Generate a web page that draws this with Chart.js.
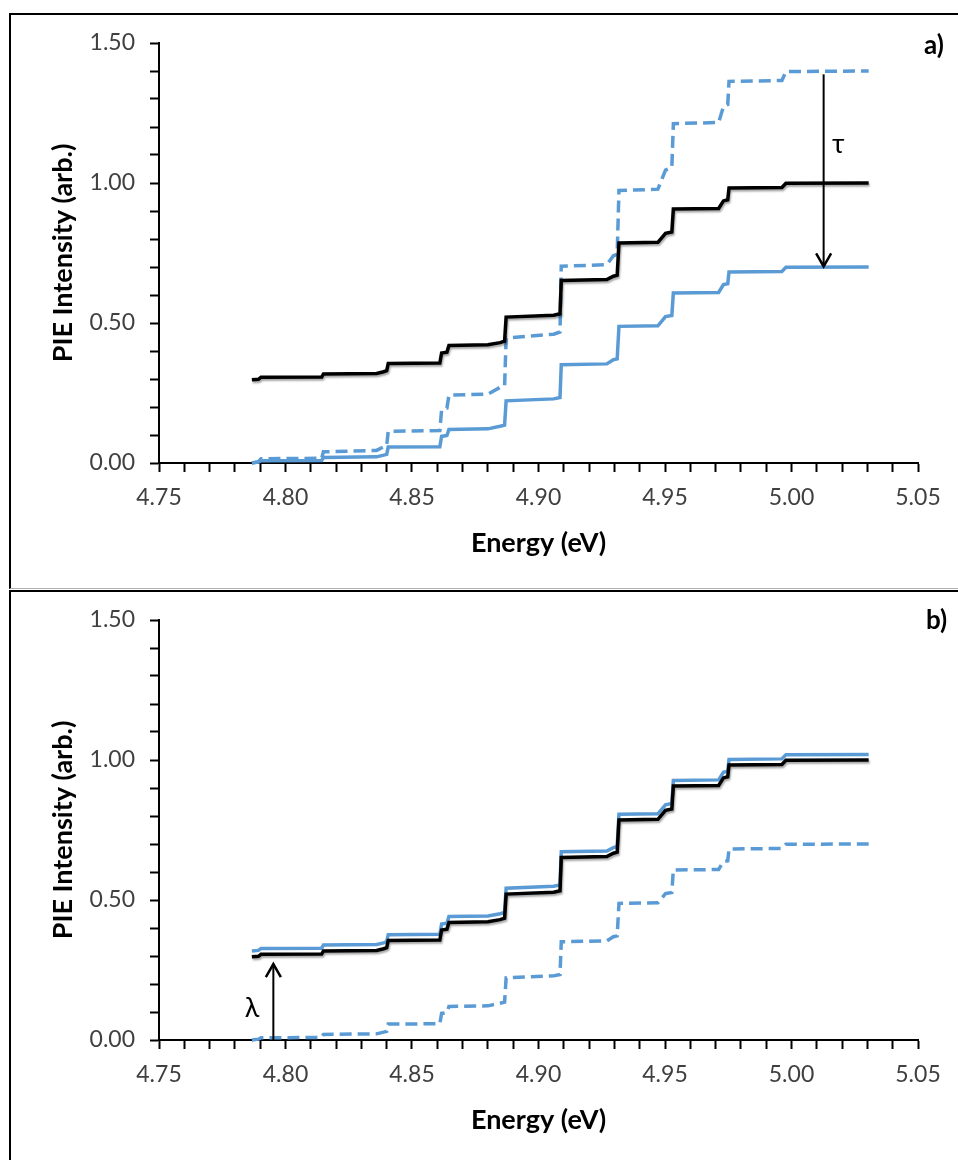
<!DOCTYPE html>
<html>
<head>
<meta charset="utf-8">
<script src="https://cdn.jsdelivr.net/npm/chart.js@4.4.1/dist/chart.umd.min.js"></script>
<style>
  html, body { margin: 0; padding: 0; background: #fff; }
  body { width: 958px; height: 1160px; position: relative; overflow: hidden; font-family: Lato, "Open Sans", sans-serif; }
  .panel { position: absolute; left: 9px; width: 980px; border-top: 2px solid #000; border-left: 2px solid #000; box-sizing: border-box; }
  #panelA { top: 13px; height: 576px; border-bottom: 1px solid #b0b0b0; }
  #panelB { top: 590px; height: 600px; }
  canvas { position: absolute; left: 0; }
  #chartA { top: 0; }
  #chartB { top: 577px; }
  .tag { position: absolute; font: bold 26px Lato, sans-serif; color: #000; line-height: 1; }
</style>
</head>
<body>
<div class="panel" id="panelA"></div>
<div class="panel" id="panelB"></div>
<canvas id="chartA" width="958" height="580"></canvas>
<canvas id="chartB" width="958" height="580"></canvas>
<div class="tag" style="left:924px; top:31px;">a)</div>
<div class="tag" style="left:926px; top:606px;">b)</div>

<script>
// ---- data ----
// energy breakpoints (eV), shared by every trace
const energy = [4.7867, 4.7893, 4.7903, 4.8143, 4.8150, 4.8360, 4.8388, 4.8400, 4.8406,
  4.8610, 4.8617, 4.8638, 4.8646, 4.8800, 4.8848, 4.8866, 4.8872, 4.9060, 4.9085, 4.9090,
  4.9270, 4.9296, 4.9311, 4.9318, 4.9472, 4.9502, 4.9527, 4.9533, 4.9712, 4.9731, 4.9748,
  4.9753, 4.9962, 4.9978, 5.0305];

// black trace (same in a and b)
const pieBlack = [0.297, 0.299, 0.306, 0.307, 0.318, 0.320, 0.326, 0.330, 0.355,
  0.357, 0.393, 0.396, 0.420, 0.422, 0.430, 0.435, 0.521, 0.528, 0.533, 0.652,
  0.655, 0.667, 0.671, 0.786, 0.788, 0.820, 0.825, 0.907, 0.909, 0.936, 0.940,
  0.982, 0.984, 0.999, 1.000];

// panel a, solid blue
const blueA = [0.000, 0.003, 0.008, 0.009, 0.020, 0.022, 0.028, 0.031, 0.057,
  0.058, 0.095, 0.098, 0.120, 0.122, 0.131, 0.135, 0.222, 0.229, 0.234, 0.351,
  0.354, 0.369, 0.372, 0.488, 0.490, 0.523, 0.527, 0.607, 0.609, 0.637, 0.640,
  0.682, 0.684, 0.699, 0.700];

// panel a, dashed blue
const dashA = [0.000, 0.005, 0.015, 0.017, 0.040, 0.045, 0.058, 0.062, 0.113,
  0.116, 0.190, 0.196, 0.242, 0.246, 0.270, 0.275, 0.446, 0.460, 0.468, 0.703,
  0.708, 0.740, 0.745, 0.973, 0.978, 1.046, 1.055, 1.212, 1.216, 1.273, 1.280,
  1.363, 1.366, 1.398, 1.400];

// panel b, solid blue
const blueB = [0.318, 0.320, 0.327, 0.328, 0.339, 0.341, 0.347, 0.351, 0.376,
  0.378, 0.414, 0.417, 0.441, 0.443, 0.451, 0.456, 0.542, 0.549, 0.554, 0.672,
  0.675, 0.687, 0.691, 0.806, 0.808, 0.840, 0.845, 0.927, 0.929, 0.956, 0.960,
  1.002, 1.004, 1.019, 1.020];

// panel b, dashed blue
const dashB = [0.000, 0.003, 0.008, 0.009, 0.020, 0.022, 0.028, 0.031, 0.057,
  0.058, 0.095, 0.098, 0.120, 0.122, 0.131, 0.135, 0.222, 0.229, 0.234, 0.351,
  0.354, 0.369, 0.372, 0.488, 0.490, 0.523, 0.527, 0.607, 0.609, 0.637, 0.640,
  0.682, 0.684, 0.699, 0.700];

// axis ticks
const xTicks = [];
for (let i = 0; i <= 30; i++) xTicks.push(+(4.75 + i * 0.01).toFixed(2));
const yTicks = [];
for (let i = 0; i <= 15; i++) yTicks.push(+(i * 0.1).toFixed(1));

// arrows: x, from, to, label and where the label goes
const tauArrow = { x: 5.0127, from: 1.388, to: 0.702, label: 'τ', lx: 5.0185, ly: 1.137 };
const lambdaArrow = { x: 4.7952, from: 0.0, to: 0.271, label: 'λ', lx: 4.7868, ly: 0.114 };

const BLUE = '#5b9bd5';
const FONT = 'Lato, "Open Sans", sans-serif';

// ---- helpers ----
function trace(values, color, dash) {
  return {
    data: energy.map((x, i) => ({ x, y: values[i] })),
    borderColor: color,
    backgroundColor: color,
    borderWidth: 3.5,
    borderDash: dash || [],
    pointRadius: 0,
    showLine: true,
    fill: false,
    tension: 0,
    clip: 8
  };
}

// soft shadow under the black trace, like the Excel original
const shadowPlugin = {
  id: 'shadow',
  beforeDatasetDraw(chart, args) {
    if (args.index !== 0) return;
    const ctx = chart.ctx;
    ctx.save();
    ctx.shadowColor = 'rgba(0,0,0,0.35)';
    ctx.shadowBlur = 2;
    ctx.shadowOffsetX = 1;
    ctx.shadowOffsetY = 2;
  },
  afterDatasetDraw(chart, args) {
    if (args.index !== 0) return;
    chart.ctx.restore();
  }
};

const arrowPlugin = {
  id: 'arrow',
  afterDatasetsDraw(chart, args, a) {
    const { ctx, scales: { x, y } } = chart;
    const px = x.getPixelForValue(a.x);
    const p0 = y.getPixelForValue(a.from);
    const p1 = y.getPixelForValue(a.to);
    const dir = Math.sign(p1 - p0);
    ctx.save();
    ctx.strokeStyle = '#000';
    ctx.lineWidth = 2;
    ctx.beginPath();
    ctx.moveTo(px, p0);
    ctx.lineTo(px, p1);
    ctx.stroke();
    ctx.lineWidth = 2.5;
    ctx.beginPath();
    ctx.moveTo(px - 7.5, p1 - dir * 13);
    ctx.lineTo(px, p1);
    ctx.lineTo(px + 7.5, p1 - dir * 13);
    ctx.stroke();
    ctx.fillStyle = '#000';
    ctx.font = '27px ' + FONT;
    ctx.textAlign = 'center';
    ctx.textBaseline = 'middle';
    ctx.fillText(a.label, x.getPixelForValue(a.lx), y.getPixelForValue(a.ly));
    ctx.restore();
  }
};

function axis(extra) {
  return Object.assign({
    type: 'linear',
    grid: { drawOnChartArea: false, drawTicks: true, tickLength: 9, tickColor: '#000', tickWidth: 2 },
    border: { color: '#000', width: 2 },
  }, extra);
}

function makePanel(id, datasets, arrow) {
  return new Chart(document.getElementById(id), {
    type: 'scatter',
    data: { datasets },
    options: {
      responsive: false,
      animation: false,
      events: [],
      layout: { padding: { left: 0, top: 43, right: 40, bottom: 0 } },
      plugins: { legend: { display: false }, tooltip: { enabled: false }, arrow },
      scales: {
        x: axis({
          min: 4.75, max: 5.05,
          afterBuildTicks: s => { s.ticks = xTicks.map(v => ({ value: v })); },
          afterFit: s => { s.height = 117; },
          ticks: {
            color: '#404040', font: { family: FONT, size: 23 }, padding: 12,
            autoSkip: false, maxRotation: 0, minRotation: 0,
            callback: v => (Math.round(v * 100) % 5 === 0 ? v.toFixed(2) : '')
          },
          title: {
            display: true, text: 'Energy (eV)', color: '#000',
            font: { family: FONT, size: 27, weight: 'bold' }, padding: { top: 0, bottom: 21 }
          }
        }),
        y: axis({
          min: 0, max: 1.5,
          afterBuildTicks: s => { s.ticks = yTicks.map(v => ({ value: v })); },
          afterFit: s => { s.width = 159; },
          ticks: {
            color: '#404040', font: { family: FONT, size: 23 }, padding: 15,
            autoSkip: false,
            callback: v => (Math.round(v * 10) % 5 === 0 ? v.toFixed(2) : '')
          },
          title: {
            display: true, text: 'PIE Intensity (arb.)', color: '#000',
            font: { family: FONT, size: 27, weight: 'bold' }, padding: { top: 47, bottom: 0 }
          }
        })
      }
    },
    plugins: [shadowPlugin, arrowPlugin]
  });
}

// ---- panels ----
makePanel('chartA', [
  trace(pieBlack, '#000'),
  trace(blueA, BLUE),
  trace(dashA, BLUE, [12, 6])
], tauArrow);

makePanel('chartB', [
  trace(pieBlack, '#000'),
  trace(blueB, BLUE),
  trace(dashB, BLUE, [12, 6])
], lambdaArrow);
</script>
</body>
</html>
